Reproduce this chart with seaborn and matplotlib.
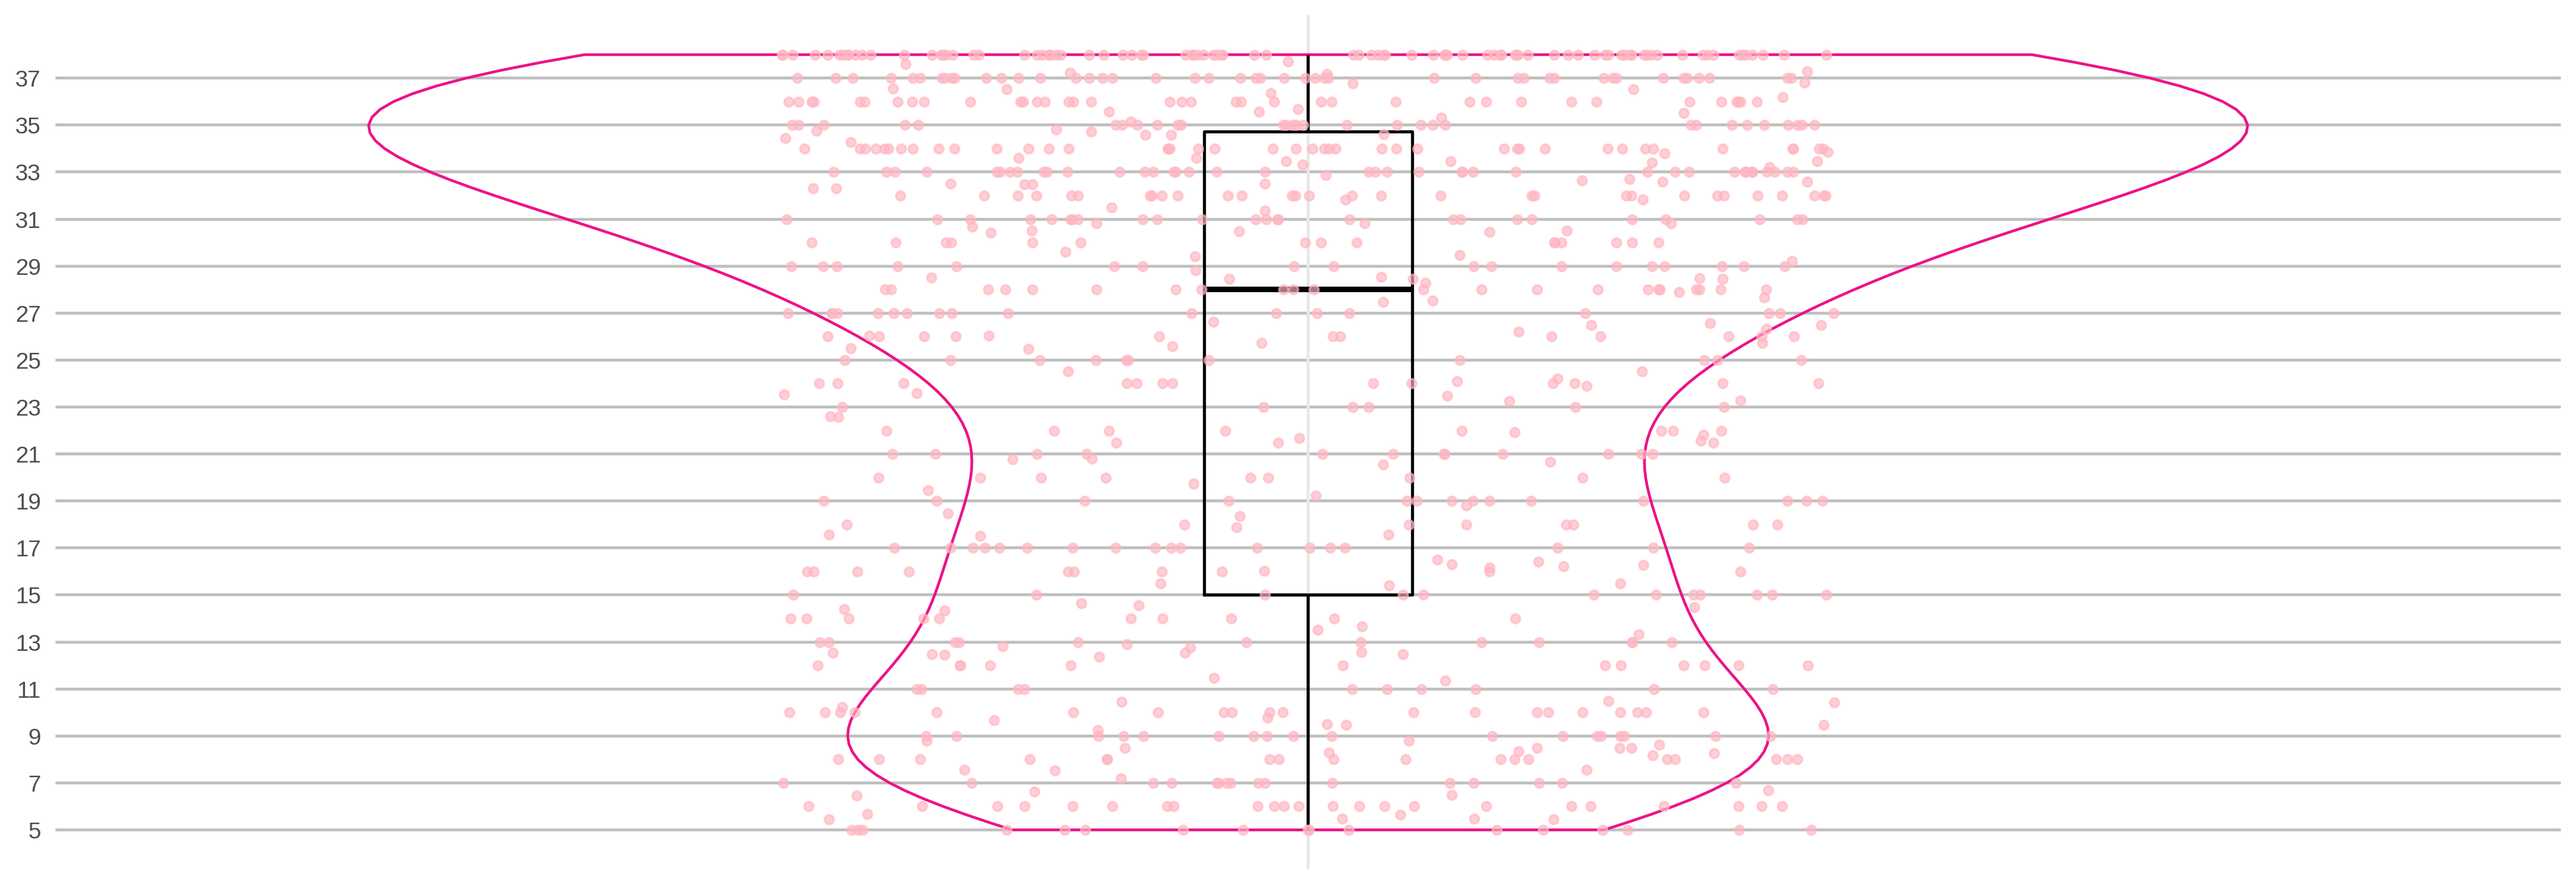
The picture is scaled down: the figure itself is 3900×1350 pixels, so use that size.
import numpy as np
import pandas as pd
import matplotlib
matplotlib.use("Agg")
import matplotlib.pyplot as plt
import seaborn as sns

# ---- data ----
int_values = [5, 6, 7, 8, 9, 10, 11, 12, 13, 14, 15, 16, 17, 18, 19, 20, 21,
              22, 23, 24, 25, 26, 27, 28, 29, 30, 31, 32, 33, 34, 35, 36, 37, 38]
int_counts = [17, 23, 16, 18, 18, 20, 10, 12, 12, 10, 12, 10, 18, 8, 14, 9, 12,
              8, 6, 13, 11, 12, 18, 22, 18, 15, 25, 30, 39, 41, 30, 37, 45, 89]

frac_low = [14.66, 14.57, 14.38, 14.47, 14.33, 13.66, 13.52, 13.33, 12.76, 12.49,
            12.53, 12.53, 12.38, 11.36, 10.22, 9.47, 9.47, 9.25, 8.62, 8.80, 7.19,
            6.69, 6.63, 5.46, 5.67, 5.47, 5.47, 12.82, 12.89, 12.56, 12.47, 12.45,
            11.46, 10.43, 10.45, 10.48, 9.67, 9.79, 9.49, 8.81, 8.50, 8.50, 8.35,
            8.50, 8.27, 8.50, 8.17, 8.30, 7.53, 7.57, 7.57, 6.50, 6.46, 5.66, 5.46]
frac_mid = [19.75, 20.55, 18.80, 18.47, 17.58, 17.58, 16.29, 15.48, 15.48, 15.42,
            16.42, 21.56, 21.68, 21.82, 21.47, 20.79, 20.81, 20.66, 21.49, 21.47,
            21.93, 19.47, 19.22, 18.37, 17.87, 17.52, 16.50, 16.17, 16.30, 16.23, 16.03]
frac_upper_mid = [27.90, 27.48, 26.57, 26.64, 26.20, 26.03, 26.03, 25.74, 25.60, 22.60,
                  27.54, 27.67, 26.50, 26.50, 26.31, 25.73, 25.47, 25.50, 24.53, 23.49,
                  23.28, 23.53, 24.52, 23.90, 23.24, 23.58, 22.57, 24.20, 24.10]
frac_upper = [34.58, 34.58, 34.76, 33.85, 32.60, 32.59, 31.82, 31.35, 30.82, 30.42,
              30.45, 30.52, 29.40, 28.48, 28.47, 28.47, 28.47, 34.74, 34.81, 34.46,
              34.61, 33.80, 33.60, 33.47, 33.47, 33.60, 33.22, 33.42, 33.31, 33.47,
              34.28, 32.86, 32.66, 32.47, 32.32, 32.31, 32.52, 32.48, 32.71, 32.52,
              31.82, 31.50, 30.81, 30.81, 30.52, 30.69, 30.49, 29.47, 29.22, 29.61,
              28.82, 28.53, 28.52, 28.29]
frac_top = [37.28, 37.23, 37.72, 37.60, 37.19, 36.81, 36.77, 36.52, 35.58, 35.33,
            35.52, 35.58, 35.68, 36.52, 36.55, 36.19, 36.35, 35.14]

y_ticks = [5, 7, 9, 11, 13, 15, 17, 19, 21, 23, 25, 27, 29, 31, 33, 35, 37]

values = np.concatenate([
    np.repeat(int_values, int_counts).astype(float),
    frac_low, frac_mid, frac_upper_mid, frac_upper, frac_top,
])
df = pd.DataFrame({"value": values})

# ---- style ----
sns.set_theme(style="white")
plt.rcParams["font.family"] = ["Liberation Sans", "DejaVu Sans"]

fig = plt.figure(figsize=(13, 4.5), dpi=300)
ax = fig.add_axes([84 / 3900, 35 / 1350, (3877 - 84) / 3900, (1315 - 23) / 1350])

np.random.seed(7)
sns.violinplot(data=df, y="value", cut=0, width=0.75, inner=None, fill=False,
               color="#EC1387", linecolor="#EC1387", linewidth=1.0, ax=ax)
sns.stripplot(data=df, y="value", jitter=0.21, size=3.3, color="#FFB6C1",
              alpha=0.65, edgecolor="#FFB6C1", linewidth=0.8, ax=ax)
sns.boxplot(data=df, y="value", width=0.083, fill=False, color="black",
            linecolor="black", linewidth=1.1, showcaps=False, showfliers=False,
            medianprops=dict(linewidth=2.0, color="black"), ax=ax)

ax.set_xlim(-0.5, 0.5)
ax.set_ylim(3.34, 39.68)
ax.set_yticks(y_ticks)
ax.set_xticks([])
ax.set_xlabel("")
ax.set_ylabel("")
ax.set_axisbelow(True)
ax.yaxis.grid(True, color="#bfbfbf", linewidth=1.05)
ax.xaxis.grid(False)
ax.axvline(0, color="#e8e8e8", linewidth=1.1, zorder=0.8)
for s in ax.spines.values():
    s.set_visible(False)
ax.tick_params(axis="y", length=0, pad=5.3, labelsize=8.4, labelcolor="#4d4d4d")

fig.savefig("out.png", dpi=300)
